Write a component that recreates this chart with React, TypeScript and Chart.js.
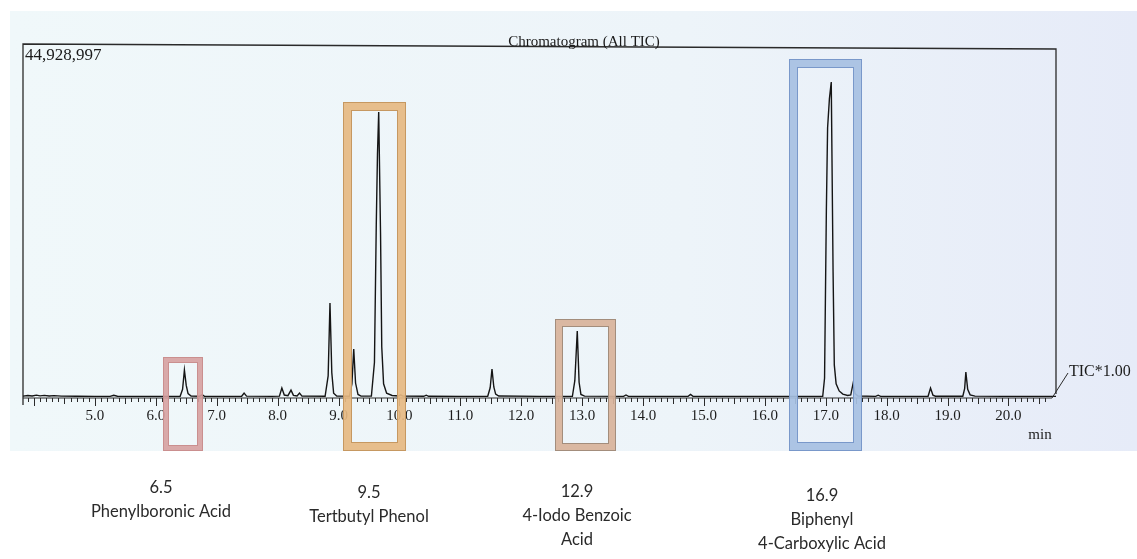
import React, { useEffect, useRef } from "react";
import { Chart, registerables } from "chart.js";

Chart.register(...registerables);

// ---- data (retention time in min, TIC intensity in millions of counts) ----
const retentionTimes = [
  3.82, 3.9, 3.97, 4.04, 4.1, 4.17, 4.25, 4.33, 4.45, 4.7, 5.0,
  5.25, 5.31, 5.37, 5.6, 5.9, 6.2, 6.4,
  6.44, 6.47, 6.5, 6.53, 6.58,
  6.72, 6.76, 6.8, 7.2,
  7.41, 7.45, 7.49, 7.9,
  8.03, 8.07, 8.11, 8.17, 8.22, 8.26, 8.32, 8.36, 8.4,
  8.78, 8.83, 8.86, 8.89, 8.92, 8.97,
  9.18, 9.22, 9.25, 9.28, 9.32, 9.37,
  9.54, 9.59, 9.62, 9.64, 9.66, 9.69, 9.71, 9.74, 9.79, 9.88,
  9.99, 10.02, 10.06, 10.4, 10.44, 10.48, 11.0, 11.45,
  11.49, 11.52, 11.55, 11.58, 11.63, 12.3, 12.84,
  12.88, 12.92, 12.95, 12.98, 13.04,
  13.68, 13.72, 13.76, 14.3, 14.74, 14.78, 14.82, 15.5, 16.3, 16.95,
  16.98, 17.01, 17.03, 17.06, 17.09, 17.12, 17.14, 17.17, 17.22, 17.28, 17.36,
  17.41, 17.45, 17.48, 17.53, 17.82, 17.86, 17.9, 18.4,
  18.68, 18.72, 18.76, 18.8, 19.25, 19.28, 19.3, 19.33, 19.37, 19.45, 19.9, 20.3, 20.78,
];

const ticMillions = [
  0.24, 0.32, 0.26, 0.36, 0.27, 0.33, 0.26, 0.3, 0.24, 0.22, 0.2,
  0.21, 0.34, 0.22, 0.2, 0.21, 0.2, 0.22,
  1.1, 3.55, 1.6, 0.55, 0.26,
  0.22, 0.42, 0.21, 0.2,
  0.22, 0.63, 0.24, 0.2,
  0.24, 1.27, 0.38, 0.3, 1.0, 0.34, 0.26, 0.63, 0.24,
  0.22, 2.8, 12.06, 3.2, 0.6, 0.25,
  0.22, 1.8, 6.22, 1.9, 0.45, 0.24,
  0.24, 4.5, 22.0, 31.0, 36.3, 21.0, 6.5, 1.8, 0.6, 0.32,
  0.26, 0.4, 0.24, 0.22, 0.36, 0.22, 0.2, 0.22,
  1.3, 3.68, 1.4, 0.5, 0.25, 0.2, 0.22,
  2.2, 8.5, 2.0, 0.45, 0.24,
  0.21, 0.38, 0.21, 0.2, 0.22, 0.45, 0.22, 0.2, 0.2, 0.22,
  2.5, 24.0, 34.3, 38.0, 40.1, 16.0, 4.2, 1.8, 0.9, 0.5, 0.32,
  0.4, 1.9, 0.55, 0.26, 0.21, 0.36, 0.21, 0.2,
  0.23, 1.27, 0.35, 0.22, 0.22, 1.2, 3.3, 1.1, 0.4, 0.24, 0.2, 0.21, 0.2,
];

const axisMinTime = 3.82;
const axisMaxTime = 20.78;
const intensityMax = 44.928997; // millions -> "44,928,997"
const intensityLabel = "44,928,997";

const majorTickValues = [5, 6, 7, 8, 9, 10, 11, 12, 13, 14, 15, 16, 17, 18, 19, 20];
const majorTickLabels = ["5.0", "6.0", "7.0", "8.0", "9.0", "10.0", "11.0", "12.0", "13.0", "14.0", "15.0", "16.0", "17.0", "18.0", "19.0", "20.0"];

// highlighted peaks (retention-time window of each box)
const boxStartTimes = [6.12, 9.07, 12.56, 16.4];
const boxEndTimes = [6.78, 10.11, 13.56, 17.6];
const boxTopMillions = [5.2, 37.6, 10.0, 43.0];

// annotation texts below the chart
const peakTimeLabels = ["6.5", "9.5", "12.9", "16.9"];
const peakNameLines = [
  ["Phenylboronic Acid"],
  ["Tertbutyl Phenol"],
  ["4-Iodo Benzoic", "Acid"],
  ["Biphenyl", "4-Carboxylic Acid"],
];

// ---- styles / layout ----
const boxStyles = [
  { band: "rgba(214,160,160,0.9)", edge: "rgba(200,140,140,0.9)", width: 6 },
  { band: "rgba(230,184,130,0.92)", edge: "rgba(196,150,95,0.95)", width: 9 },
  { band: "rgba(216,178,154,0.92)", edge: "rgba(160,138,122,0.95)", width: 8 },
  { band: "rgba(166,192,226,0.92)", edge: "rgba(118,150,200,0.95)", width: 9 },
];
const annotationCenters = [161, 369, 577, 822];
const annotationTops = [488, 493, 492, 496];

const SERIF = '"Liberation Serif", "DejaVu Serif", serif';

const overlayPlugin = {
  id: "chromOverlay",
  beforeDraw(chart: any) {
    const { ctx, chartArea } = chart;
    const W = chart.width;
    ctx.save();
    ctx.fillStyle = "#ffffff";
    ctx.fillRect(0, 0, W, chart.height);
    // photographed paper region
    const g = ctx.createLinearGradient(10, 0, W, 0);
    g.addColorStop(0, "#f0f8fa");
    g.addColorStop(0.6, "#edf4f9");
    g.addColorStop(1, "#e6ebf8");
    ctx.fillStyle = g;
    ctx.fillRect(10, 11, W - 10, 440);

    // frame
    const L = chartArea.left;
    const R = chartArea.right;
    const T = chartArea.top;
    const B = chartArea.bottom;
    ctx.strokeStyle = "#2a2a2a";
    ctx.lineWidth = 1.3;
    ctx.beginPath();
    ctx.moveTo(L, B + 7);
    ctx.lineTo(L, T);
    ctx.lineTo(R, T + 5);
    ctx.lineTo(R, B - 4);
    ctx.stroke();

    // title + max value
    ctx.fillStyle = "#1a1a1a";
    ctx.font = `15px ${SERIF}`;
    ctx.textAlign = "center";
    ctx.textBaseline = "alphabetic";
    ctx.fillText("Chromatogram (All TIC)", 584, 46);
    ctx.textAlign = "left";
    ctx.font = `17px ${SERIF}`;
    ctx.fillText(intensityLabel, L + 2, 60);
    ctx.restore();
  },
  afterDatasetsDraw(chart: any) {
    const { ctx, chartArea } = chart;
    const xs = chart.scales.x;
    const ys = chart.scales.y;
    const L = chartArea.left;
    const R = chartArea.right;
    const B = chartArea.bottom;
    ctx.save();
    // time axis
    ctx.strokeStyle = "#2a2a2a";
    ctx.lineWidth = 1.2;
    ctx.beginPath();
    ctx.moveTo(L, B);
    ctx.lineTo(R - 4, B);
    ctx.stroke();
    ctx.lineWidth = 1;
    ctx.beginPath();
    for (let i = Math.ceil(axisMinTime * 10); i <= 206; i++) {
      const px = Math.round(xs.getPixelForValue(i / 10)) + 0.5;
      const len = i % 10 === 0 ? 8 : i % 5 === 0 ? 6 : 4;
      ctx.moveTo(px, B);
      ctx.lineTo(px, B + len);
    }
    ctx.stroke();
    ctx.fillStyle = "#1c1c1c";
    ctx.font = `15px ${SERIF}`;
    ctx.textAlign = "center";
    ctx.textBaseline = "middle";
    majorTickValues.forEach((v, i) => {
      ctx.fillText(majorTickLabels[i], xs.getPixelForValue(v), B + 18);
    });
    ctx.fillText("min", 1040, 435);
    // TIC leader
    ctx.beginPath();
    ctx.moveTo(R - 4, B);
    ctx.lineTo(1068, 373);
    ctx.stroke();
    ctx.textAlign = "left";
    ctx.font = `16px ${SERIF}`;
    ctx.fillText("TIC*1.00", 1069, 372);

    // highlight boxes
    boxStartTimes.forEach((t0, i) => {
      const st = boxStyles[i];
      const x0 = Math.round(xs.getPixelForValue(t0));
      const x1 = Math.round(xs.getPixelForValue(boxEndTimes[i]));
      const y0 = Math.round(ys.getPixelForValue(boxTopMillions[i]));
      const y1 = 451;
      const w = st.width;
      ctx.strokeStyle = st.band;
      ctx.lineWidth = w;
      ctx.strokeRect(x0 + w / 2, y0 + w / 2, x1 - x0 - w, y1 - y0 - w);
      ctx.strokeStyle = st.edge;
      ctx.lineWidth = 1;
      ctx.strokeRect(x0 + 0.5, y0 + 0.5, x1 - x0 - 1, y1 - y0 - 1);
      ctx.strokeRect(x0 + w - 0.5, y0 + w - 0.5, x1 - x0 - 2 * w + 1, y1 - y0 - 2 * w + 1);
    });

    // compound annotations
    ctx.fillStyle = "#2a2a2a";
    ctx.font = '16.5px Lato, "Open Sans", sans-serif';
    ctx.textAlign = "center";
    ctx.textBaseline = "middle";
    peakTimeLabels.forEach((lab, i) => {
      const cx = annotationCenters[i];
      const top = annotationTops[i];
      ctx.fillText(lab, cx, top);
      peakNameLines[i].forEach((line, j) => {
        ctx.fillText(line, cx, top + 24 * (j + 1));
      });
    });
    ctx.restore();
  },
};

export default function App() {
  const canvasRef = useRef<HTMLCanvasElement>(null);
  useEffect(() => {
    document.body.style.margin = "0";
    const canvas = canvasRef.current;
    if (!canvas) return;
    const chart = new Chart(canvas, {
      type: "line",
      data: {
        datasets: [
          {
            data: retentionTimes.map((t, i) => ({ x: t, y: ticMillions[i] })),
            borderColor: "#151515",
            borderWidth: 1.4,
            pointRadius: 0,
            tension: 0,
            fill: false,
          },
        ],
      },
      options: {
        responsive: false,
        animation: false,
        devicePixelRatio: 1,
        events: [],
        layout: { padding: { left: 23, right: 81, top: 44, bottom: 161 } },
        scales: {
          x: { type: "linear", min: axisMinTime, max: axisMaxTime, display: false },
          y: { type: "linear", min: 0, max: intensityMax, display: false },
        },
        plugins: { legend: { display: false }, tooltip: { enabled: false } },
      },
      plugins: [overlayPlugin],
    } as any);
    return () => chart.destroy();
  }, []);
  return (
    <div style={{ position: "absolute", left: 0, top: 0, width: 1137, height: 559, background: "#fff" }}>
      <canvas ref={canvasRef} width={1137} height={559} style={{ display: "block" }} />
    </div>
  );
}
